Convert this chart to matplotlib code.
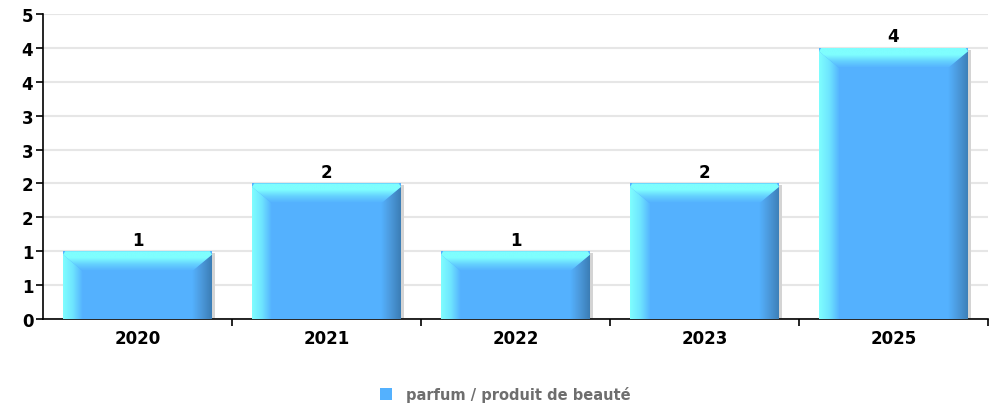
import numpy as np
import matplotlib
matplotlib.use("Agg")
import matplotlib.pyplot as plt
from matplotlib.patches import Polygon, Rectangle
from matplotlib.colors import LinearSegmentedColormap

years = ["2020", "2021", "2022", "2023", "2025"]
counts = [1, 2, 1, 2, 4]
series_name = "parfum / produit de beauté"
yticks = np.arange(0, 4.51, 0.5)
ytick_labels = ["0", "1", "1", "2", "2", "3", "3", "4", "4", "5"]

face = "#54b1fe"
light = "#7ffefe"
dark = "#3b7db5"

fig = plt.figure(figsize=(9.94, 4.06), dpi=100)
ax = fig.add_axes([43 / 994, 1 - 320 / 406, 945 / 994, 305 / 406])

# grid and axes
ax.set_yticks(yticks)
ax.set_yticklabels(ytick_labels, fontsize=12, fontweight="bold")
ax.yaxis.grid(True, color="#e6e6e6", lw=1.5)
ax.set_axisbelow(True)
ax.set_xticks(np.arange(len(years)))
ax.set_xticklabels(years, fontsize=12, fontweight="bold")
ax.tick_params(axis="x", length=0, pad=7)
ax.tick_params(axis="y", length=5, width=1.2, pad=2)
ax.set_xticks(np.arange(0.5, len(years)), minor=True)
ax.tick_params(axis="x", which="minor", length=5, width=1.2)
for s in ["top", "right"]:
    ax.spines[s].set_visible(False)
for s in ["left", "bottom"]:
    ax.spines[s].set_linewidth(1.2)

# bevelled bars
bw = 149 / 189
dx = 20 / 189
dy = 20 / (305 / 4.5)
cm_left = LinearSegmentedColormap.from_list("l", [light, "#6ee4ff", face])
cm_right = LinearSegmentedColormap.from_list("r", [face, "#4b98da", dark])
cm_top = LinearSegmentedColormap.from_list("t", [face, "#64d0ff", light, light])
grad = np.linspace(0, 1, 64)

for i, v in enumerate(counts):
    x0, x1 = i - bw / 2, i + bw / 2
    ax.add_patch(Rectangle((x1, 0), 3 / 189, v - 0.03, color="#d4d4d4", zorder=2, lw=0))
    ax.add_patch(Rectangle((x0, 0), bw, v, color=face, zorder=3, lw=0))
    parts = [
        ([(x0, 0), (x0, v - 0.05), (x0 + dx, v - dy), (x0 + dx, 0)], cm_left, grad[None, :], (x0, x0 + dx, 0, v)),
        ([(x1, 0), (x1, v - 0.05), (x1 - dx, v - dy), (x1 - dx, 0)], cm_right, grad[None, :], (x1 - dx, x1, 0, v)),
        ([(x0 + 0.012, v), (x1 - 0.012, v), (x1, v - 0.05), (x1 - dx, v - dy), (x0 + dx, v - dy), (x0, v - 0.05)],
         cm_top, grad[:, None], (x0, x1, v - dy, v)),
    ]
    for pts, cmap, arr, ext in parts:
        poly = Polygon(pts, closed=True, facecolor="none", edgecolor="none")
        ax.add_patch(poly)
        im = ax.imshow(arr, cmap=cmap, extent=ext, origin="lower", aspect="auto",
                       interpolation="bilinear", zorder=4)
        im.set_clip_path(poly)
    ax.text(i, v + 0.04, str(v), ha="center", va="bottom", fontsize=12, fontweight="bold", zorder=5)

ax.set_xlim(-0.5, len(years) - 0.5)
ax.set_ylim(0, 4.5)

# legend
fig.patches.append(Rectangle((380 / 994, 1 - 401 / 406), 12 / 994, 12 / 406,
                             transform=fig.transFigure, color=face, lw=0))
fig.text(406 / 994, 1 - 395 / 406, series_name, fontsize=10.5, fontweight="bold",
         color="#6e6e6e", va="center", ha="left")

fig.savefig("out.png", dpi=100)
